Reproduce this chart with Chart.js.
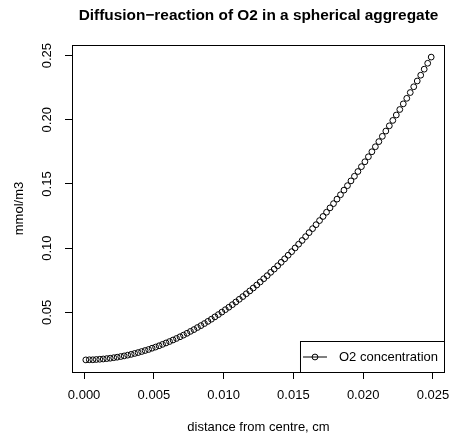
<!DOCTYPE html>
<html>
<head>
<meta charset="utf-8">
<script src="https://cdn.jsdelivr.net/npm/chart.js@4/dist/chart.umd.min.js"></script>
<style>
  html, body { margin: 0; padding: 0; background: #fff; }
  canvas { display: block; }
</style>
</head>
<body>
<canvas id="chart" width="450" height="436"></canvas>
<script>
let chartTitle = 'Diffusion\u2212reaction of O2 in a spherical aggregate';
let xTitle = 'distance from centre, cm';
let yTitle = 'mmol/m3';
let seriesName = 'O2 concentration';

// distance from centre (cm), cell midpoints
let distance = [
    0.000125, 0.000375, 0.000625, 0.000875, 0.001125, 0.001375, 0.001625, 0.001875, 0.002125, 0.002375,
    0.002625, 0.002875, 0.003125, 0.003375, 0.003625, 0.003875, 0.004125, 0.004375, 0.004625, 0.004875,
    0.005125, 0.005375, 0.005625, 0.005875, 0.006125, 0.006375, 0.006625, 0.006875, 0.007125, 0.007375,
    0.007625, 0.007875, 0.008125, 0.008375, 0.008625, 0.008875, 0.009125, 0.009375, 0.009625, 0.009875,
    0.010125, 0.010375, 0.010625, 0.010875, 0.011125, 0.011375, 0.011625, 0.011875, 0.012125, 0.012375,
    0.012625, 0.012875, 0.013125, 0.013375, 0.013625, 0.013875, 0.014125, 0.014375, 0.014625, 0.014875,
    0.015125, 0.015375, 0.015625, 0.015875, 0.016125, 0.016375, 0.016625, 0.016875, 0.017125, 0.017375,
    0.017625, 0.017875, 0.018125, 0.018375, 0.018625, 0.018875, 0.019125, 0.019375, 0.019625, 0.019875,
    0.020125, 0.020375, 0.020625, 0.020875, 0.021125, 0.021375, 0.021625, 0.021875, 0.022125, 0.022375,
    0.022625, 0.022875, 0.023125, 0.023375, 0.023625, 0.023875, 0.024125, 0.024375, 0.024625, 0.024875
];

// O2 concentration (mmol/m3)
let o2 = [
    0.0130, 0.0131, 0.0131, 0.0133, 0.0135, 0.0137, 0.0140, 0.0143, 0.0147, 0.0151,
    0.0156, 0.0161, 0.0167, 0.0173, 0.0180, 0.0187, 0.0195, 0.0203, 0.0211, 0.0221,
    0.0230, 0.0240, 0.0251, 0.0262, 0.0273, 0.0285, 0.0297, 0.0310, 0.0323, 0.0337,
    0.0352, 0.0366, 0.0382, 0.0397, 0.0413, 0.0430, 0.0447, 0.0465, 0.0483, 0.0502,
    0.0521, 0.0540, 0.0560, 0.0581, 0.0602, 0.0623, 0.0645, 0.0667, 0.0690, 0.0713,
    0.0737, 0.0762, 0.0786, 0.0812, 0.0837, 0.0863, 0.0890, 0.0917, 0.0945, 0.0973,
    0.1002, 0.1031, 0.1060, 0.1090, 0.1121, 0.1152, 0.1183, 0.1215, 0.1247, 0.1280,
    0.1314, 0.1347, 0.1382, 0.1416, 0.1452, 0.1487, 0.1524, 0.1560, 0.1597, 0.1635,
    0.1673, 0.1712, 0.1751, 0.1790, 0.1830, 0.1871, 0.1912, 0.1953, 0.1995, 0.2037,
    0.2080, 0.2124, 0.2167, 0.2212, 0.2257, 0.2302, 0.2347, 0.2394, 0.2440, 0.2488
];

let xTicks = [0, 0.005, 0.010, 0.015, 0.020, 0.025];
let xTickLabels = ['0.000', '0.005', '0.010', '0.015', '0.020', '0.025'];
let yTicks = [0.05, 0.10, 0.15, 0.20, 0.25];
let yTickLabels = ['0.05', '0.10', '0.15', '0.20', '0.25'];

let fontFamily = '"Liberation Sans", Arial, Helvetica, sans-serif';

// box around plot, title and legend drawn the R way
let rPlotExtras = {
    id: 'rPlotExtras',
    afterDraw(chart) {
        let ctx = chart.ctx;
        let a = chart.chartArea;
        ctx.save();
        ctx.strokeStyle = '#000';
        ctx.lineWidth = 1;
        ctx.strokeRect(Math.round(a.left) + 0.5, Math.round(a.top) + 0.5,
            Math.round(a.right - a.left) - 1, Math.round(a.bottom - a.top));

        // title
        ctx.fillStyle = '#000';
        ctx.font = 'bold 15.4px ' + fontFamily;
        ctx.textAlign = 'center';
        ctx.textBaseline = 'middle';
        ctx.fillText(chartTitle, (a.left + a.right) / 2, 16);

        // legend, bottom right inside the plot
        let ds = chart.data.datasets[0];
        ctx.font = '13px ' + fontFamily;
        let textW = ctx.measureText(ds.label).width;
        let boxH = 31;
        let boxW = 39 + textW + 7;
        let bx = Math.round(a.right) - boxW;
        let by = Math.round(a.bottom) - boxH;
        ctx.fillStyle = '#fff';
        ctx.fillRect(bx, by, boxW, boxH);
        ctx.strokeRect(bx + 0.5, by + 0.5, boxW - 1, boxH);
        let cy = by + boxH / 2 + 0.5;
        ctx.beginPath();
        ctx.moveTo(bx + 3, cy);
        ctx.lineTo(bx + 27, cy);
        ctx.stroke();
        ctx.beginPath();
        ctx.arc(bx + 15, cy, ds.pointRadius, 0, Math.PI * 2);
        ctx.stroke();
        ctx.fillStyle = '#000';
        ctx.textAlign = 'left';
        ctx.fillText(ds.label, bx + 39, cy);
        ctx.restore();
    }
};

let ctx = document.getElementById('chart').getContext('2d');
let chart = new Chart(ctx, {
    type: 'scatter',
    data: {
        datasets: [{
            label: seriesName,
            data: distance.map((d, i) => ({ x: d, y: o2[i] })),
            showLine: false,
            pointStyle: 'circle',
            pointRadius: 2.9,
            pointBorderWidth: 1,
            pointBorderColor: '#000',
            pointBackgroundColor: 'rgba(0,0,0,0)'
        }]
    },
    options: {
        responsive: false,
        animation: false,
        devicePixelRatio: 1,
        layout: { padding: { top: 45, right: 5, left: 0, bottom: 0 } },
        plugins: {
            legend: { display: false },
            tooltip: { enabled: false },
            title: { display: false }
        },
        scales: {
            x: {
                type: 'linear',
                min: -0.000865,
                max: 0.025865,
                afterBuildTicks: s => { s.ticks = xTicks.map(v => ({ value: v })); },
                afterFit: s => {
                    s.height = 64;
                    s.paddingLeft = 0;
                    s.paddingRight = 0;
                },
                border: { display: false },
                grid: { drawOnChartArea: false, drawTicks: true, tickLength: 7, color: '#000' },
                ticks: {
                    color: '#000',
                    padding: 9,
                    maxRotation: 0,
                    autoSkip: false,
                    font: { family: fontFamily, size: 13 },
                    callback: (v, i) => xTickLabels[i]
                },
                title: {
                    display: true,
                    text: xTitle,
                    color: '#000',
                    font: { family: fontFamily, size: 13 },
                    padding: { top: 0, bottom: 1 }
                }
            },
            y: {
                type: 'linear',
                min: 0.00357,
                max: 0.25823,
                afterBuildTicks: s => { s.ticks = yTicks.map(v => ({ value: v })); },
                afterFit: s => {
                    s.width = 72;
                    s.paddingTop = 0;
                    s.paddingBottom = 0;
                },
                border: { display: false },
                grid: { drawOnChartArea: false, drawTicks: true, tickLength: 7, color: '#000' },
                ticks: {
                    color: '#000',
                    padding: 5,
                    minRotation: 90,
                    maxRotation: 90,
                    crossAlign: 'center',
                    autoSkip: false,
                    font: { family: fontFamily, size: 13 },
                    callback: (v, i) => yTickLabels[i]
                },
                title: {
                    display: true,
                    text: yTitle,
                    color: '#000',
                    font: { family: fontFamily, size: 13 },
                    padding: { top: 12, bottom: 0 }
                }
            }
        }
    },
    plugins: [rPlotExtras]
});
</script>
</body>
</html>
